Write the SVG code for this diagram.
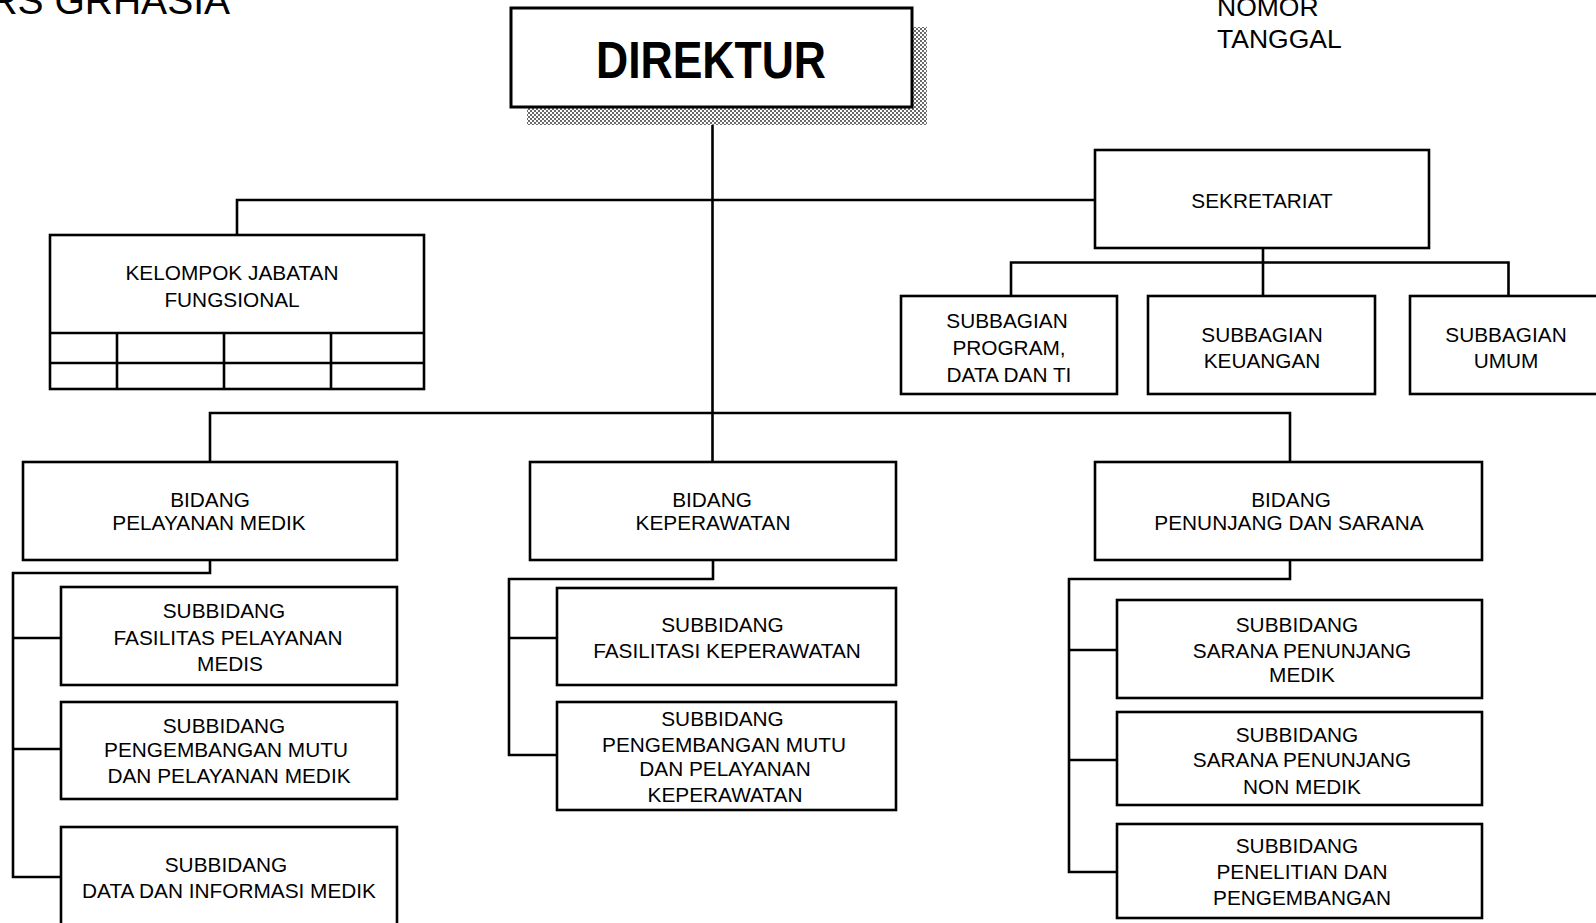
<svg xmlns="http://www.w3.org/2000/svg" width="1596" height="923" viewBox="0 0 1596 923">
<style>
.box{fill:#fff;stroke:#000;stroke-width:2.6}
.ln{fill:none;stroke:#000;stroke-width:2.6}
.t{font-family:"Liberation Sans",Arial,sans-serif;font-size:20.8px;text-anchor:middle;fill:#000}
.big{font-family:"Liberation Sans",Arial,sans-serif;font-size:26.5px;fill:#000}
</style>
<defs>
<pattern id="chk" width="4" height="4" patternUnits="userSpaceOnUse">
<rect width="4" height="4" fill="#fff"/>
<rect width="2" height="2" fill="#6a6a6a"/>
<rect x="2" y="2" width="2" height="2" fill="#6a6a6a"/>
</pattern>
</defs>
<rect width="1596" height="923" fill="#fff"/>

<g id="header">
<text x="230" y="14" style="font-family:'Liberation Sans',Arial,sans-serif;font-size:39px;text-anchor:end;fill:#000">RS GRHASIA</text>
<text class="big" x="1217" y="16">NOMOR</text>
<text class="big" x="1217" y="48">TANGGAL</text>
</g>

<g id="connectors">
<path class="ln" d="M712.5,107 V462"/>
<path class="ln" d="M237,235 V200 H1095"/>
<path class="ln" d="M1263,248 V296 M1011,296 V262.5 H1508.5 V296"/>
<path class="ln" d="M210,462 V413 H1290 V462"/>
<path class="ln" d="M210,560 V573 H13 V877 H61 M13,638 H61 M13,749 H61"/>
<path class="ln" d="M713,560 V579 H509 V755 H557 M509,638 H557"/>
<path class="ln" d="M1290,560 V579 H1069 V872 H1117 M1069,650 H1117 M1069,760 H1117"/>
</g>

<g id="direktur">
<rect x="527" y="27" width="400" height="98" fill="url(#chk)"/>
<rect x="511" y="8" width="401" height="99" fill="#fff" stroke="#000" stroke-width="3"/>
<text x="711" y="78" textLength="230" lengthAdjust="spacingAndGlyphs" style="font-family:'Liberation Sans',Arial,sans-serif;font-size:51px;font-weight:bold;text-anchor:middle;fill:#000">DIREKTUR</text>
</g>

<g id="kelompok-jabatan-fungsional">
<rect class="box" x="50" y="235" width="374" height="154"/>
<path class="ln" d="M50,333 H424 M50,363 H424 M117,333 V389 M224,333 V389 M331,333 V389"/>
<text class="t" x="232" y="280">KELOMPOK JABATAN</text>
<text class="t" x="232" y="307">FUNGSIONAL</text>
</g>

<g id="sekretariat">
<rect class="box" x="1095" y="150" width="334" height="98"/>
<text class="t" x="1262" y="208">SEKRETARIAT</text>
</g>

<g id="subbagian-program">
<rect class="box" x="901" y="296" width="216" height="98"/>
<text class="t" x="1007" y="328">SUBBAGIAN</text>
<text class="t" x="1009" y="354.5">PROGRAM,</text>
<text class="t" x="1009" y="382">DATA  DAN TI</text>
</g>

<g id="subbagian-keuangan">
<rect class="box" x="1148" y="296" width="227" height="98"/>
<text class="t" x="1262" y="342">SUBBAGIAN</text>
<text class="t" x="1262" y="368">KEUANGAN</text>
</g>

<g id="subbagian-umum">
<rect class="box" x="1410" y="296" width="200" height="98"/>
<text class="t" x="1506" y="342">SUBBAGIAN</text>
<text class="t" x="1506" y="368">UMUM</text>
</g>

<g id="bidang-pelayanan-medik">
<rect class="box" x="23" y="462" width="374" height="98"/>
<text class="t" x="210" y="507">BIDANG</text>
<text class="t" x="209" y="530">PELAYANAN MEDIK</text>
</g>

<g id="subbidang-fasilitas-pelayanan-medis">
<rect class="box" x="61" y="587" width="336" height="98"/>
<text class="t" x="224" y="618">SUBBIDANG</text>
<text class="t" x="228" y="645">FASILITAS PELAYANAN</text>
<text class="t" x="230" y="671">MEDIS</text>
</g>

<g id="subbidang-pengembangan-mutu-medik">
<rect class="box" x="61" y="702" width="336" height="97"/>
<text class="t" x="224" y="733">SUBBIDANG</text>
<text class="t" x="226" y="757">PENGEMBANGAN MUTU</text>
<text class="t" x="229" y="783">DAN PELAYANAN MEDIK</text>
</g>

<g id="subbidang-data-informasi-medik">
<rect class="box" x="61" y="827" width="336" height="110"/>
<text class="t" x="226" y="872">SUBBIDANG</text>
<text class="t" x="229" y="898">DATA DAN INFORMASI MEDIK</text>
</g>

<g id="bidang-keperawatan">
<rect class="box" x="530" y="462" width="366" height="98"/>
<text class="t" x="712" y="507">BIDANG</text>
<text class="t" x="713" y="530">KEPERAWATAN</text>
</g>

<g id="subbidang-fasilitasi-keperawatan">
<rect class="box" x="557" y="588" width="339" height="97"/>
<text class="t" x="722.5" y="632">SUBBIDANG</text>
<text class="t" x="727" y="658">FASILITASI KEPERAWATAN</text>
</g>

<g id="subbidang-pengembangan-mutu-keperawatan">
<rect class="box" x="557" y="702" width="339" height="108"/>
<text class="t" x="722.5" y="726">SUBBIDANG</text>
<text class="t" x="724" y="752">PENGEMBANGAN MUTU</text>
<text class="t" x="725" y="776">DAN PELAYANAN</text>
<text class="t" x="725" y="802">KEPERAWATAN</text>
</g>

<g id="bidang-penunjang-sarana">
<rect class="box" x="1095" y="462" width="387" height="98"/>
<text class="t" x="1291" y="507">BIDANG</text>
<text class="t" x="1289" y="530">PENUNJANG DAN SARANA</text>
</g>

<g id="subbidang-sarana-penunjang-medik">
<rect class="box" x="1117" y="600" width="365" height="98"/>
<text class="t" x="1297" y="632">SUBBIDANG</text>
<text class="t" x="1302" y="658">SARANA PENUNJANG</text>
<text class="t" x="1302" y="682">MEDIK</text>
</g>

<g id="subbidang-sarana-penunjang-non-medik">
<rect class="box" x="1117" y="712" width="365" height="93"/>
<text class="t" x="1297" y="742">SUBBIDANG</text>
<text class="t" x="1302" y="767">SARANA PENUNJANG</text>
<text class="t" x="1302" y="794">NON MEDIK</text>
</g>

<g id="subbidang-penelitian-pengembangan">
<rect class="box" x="1117" y="824" width="365" height="94"/>
<text class="t" x="1297" y="853">SUBBIDANG</text>
<text class="t" x="1302" y="879">PENELITIAN DAN</text>
<text class="t" x="1302" y="905">PENGEMBANGAN</text>
</g>
</svg>
